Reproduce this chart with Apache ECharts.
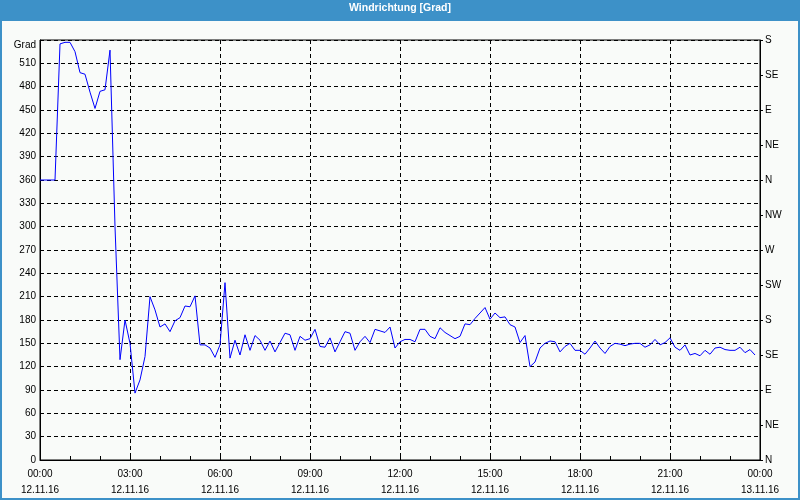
<!DOCTYPE html>
<html>
<head>
<meta charset="utf-8">
<script src="https://cdn.jsdelivr.net/npm/echarts@6/dist/echarts.min.js"></script>
<style>
html,body{margin:0;padding:0;background:#fff;}
#chart{width:800px;height:500px;}
</style>
</head>
<body>
<div id="chart"></div>
<script>
// ---- data ----
const chartTitle = 'Windrichtung [Grad]';
const unitLabel = 'Grad';
const stepMinutes = 10; // sampling interval of the series, starting 12.11.16 00:00
const windDirection = [
  360,360,360,360,535,537,537,525,498,496,473,452,474,476,
  527,300,129,180,150,86,103,133,210,193,171,175,165,179,183,198,197,211,
  148,148,144,132,148,228,131,154,135,
  161,141,160,154,141,153,139,151,163,161,141,159,154,156,168,146,145,157,139,152,
  165,163,141,152,159,151,168,166,164,171,144,152,155,155,152,168,168,159,156,170,
  164,160,156,159,175,174,182,189,196,181,
  189,183,184,174,171,151,160,120,126,144,150,153,152,139,146,150,141,141,136,144,
  153,144,137,146,150,149,147,149,150,150,145,148,155,148,151,157,145,141,148,135,
  137,134,141,136,144,145,142,141,141,145,138,142,135
];
const timeLabels = ['00:00','03:00','06:00','09:00','12:00','15:00','18:00','21:00','00:00'];
const dateLabels = ['12.11.16','12.11.16','12.11.16','12.11.16','12.11.16','12.11.16','12.11.16','12.11.16','13.11.16'];
const directionLabels = ['N','NE','E','SE','S','SW','W','NW','N','NE','E','SE','S'];

// ---- chart ----
const seriesData = windDirection.map((v, i) => [i * stepMinutes, v]);
const font = '"Liberation Sans", Arial, sans-serif';
const chart = echarts.init(document.getElementById('chart'), null, {renderer: 'canvas'});
chart.setOption({
  animation: false,
  backgroundColor: '#f9fbf9',
  title: {
    text: chartTitle,
    left: 'center',
    top: 3,
    padding: 0,
    textStyle: {color: '#ffffff', fontSize: 10.5, fontWeight: 'bold', fontFamily: font}
  },
  graphic: [
    {type: 'rect', z: -1, silent: true, shape: {x: 0, y: 0, width: 800, height: 21}, style: {fill: '#3d91c8'}},
    {type: 'rect', z: 100, silent: true, shape: {x: 1, y: 1, width: 798, height: 498}, style: {fill: null, stroke: '#3d91c8', lineWidth: 2}},
    {type: 'text', silent: true, x: 36, y: 45, style: {text: unitLabel, align: 'right', verticalAlign: 'middle', fill: '#000', font: '10px ' + font}}
  ],
  grid: {left: 40, right: 40, top: 40, bottom: 40, show: true, borderColor: '#000', borderWidth: 1, backgroundColor: 'transparent'},
  xAxis: {
    type: 'value',
    min: 0, max: 1440, interval: 180,
    axisLine: {show: true, lineStyle: {color: '#000', width: 1}},
    axisTick: {show: true, inside: true, length: 4, lineStyle: {color: '#000'}},
    minorTick: {show: true, splitNumber: 3, length: 4, lineStyle: {color: '#000'}},
    splitLine: {show: true, lineStyle: {color: '#000', type: [4, 3], width: 1}},
    axisLabel: {
      margin: 6,
      color: '#000',
      fontSize: 10,
      fontFamily: font,
      lineHeight: 16,
      formatter: function (v) {
        const i = Math.round(v / 180);
        return timeLabels[i] + '\n' + dateLabels[i];
      }
    }
  },
  yAxis: [
    {
      type: 'value',
      min: 0, max: 540, interval: 30,
      axisLine: {show: true, lineStyle: {color: '#000', width: 1}},
      axisTick: {show: false},
      splitLine: {show: true, lineStyle: {color: '#000', type: [4, 3], width: 1}},
      axisLabel: {
        margin: 4, color: '#000', fontSize: 10, fontFamily: font,
        formatter: function (v) { return v >= 540 ? '' : String(v); }
      }
    },
    {
      type: 'value',
      position: 'right',
      min: 0, max: 540, interval: 45,
      axisLine: {show: true, lineStyle: {color: '#000', width: 1}},
      axisTick: {show: true, inside: false, length: 3, lineStyle: {color: '#000'}},
      splitLine: {show: false},
      axisLabel: {
        margin: 5, color: '#000', fontSize: 10, fontFamily: font,
        formatter: function (v) { return directionLabels[Math.round(v / 45)]; }
      }
    }
  ],
  series: [{
    type: 'line',
    yAxisIndex: 0,
    data: seriesData,
    showSymbol: false,
    symbol: 'none',
    lineStyle: {color: '#0000ff', width: 1},
    clip: true
  }]
});
</script>
</body>
</html>
